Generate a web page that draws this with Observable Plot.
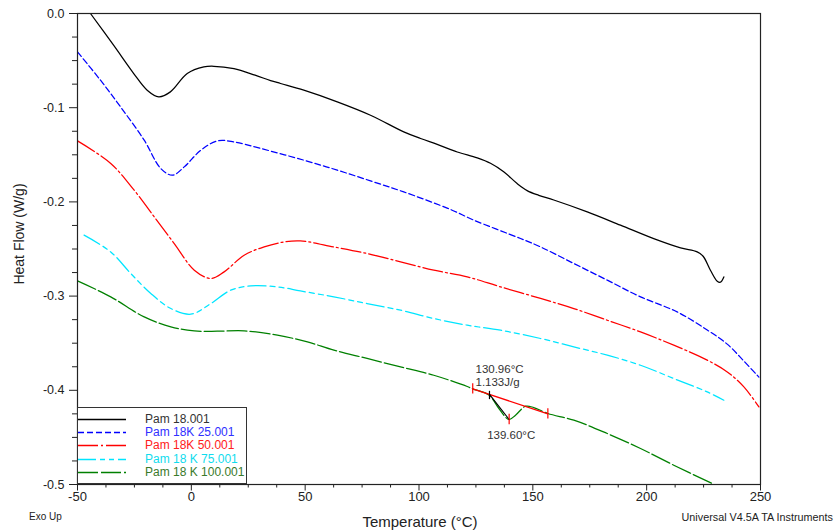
<!DOCTYPE html>
<html>
<head>
<meta charset="utf-8">
<script src="https://cdn.jsdelivr.net/npm/d3@7"></script>
<script src="https://cdn.jsdelivr.net/npm/@observablehq/plot@0.6"></script>
<style>
  body { margin: 0; background: #fff; }
  #wrap { position: relative; width: 836px; height: 532px; font-family: Arial, "Liberation Sans", sans-serif; color: #222; }
  #wrap svg { position: absolute; left: 0; top: 0; }
  .lbl { position: absolute; white-space: nowrap; line-height: 1; }
  #legend { position: absolute; left: 77px; top: 407px; width: 170px; height: 77px; box-sizing: border-box;
            border: 1px solid #333; background: #fff; }
  .row { position: absolute; left: 0; height: 13px; width: 100%; }
  .row svg { position: absolute; left: 7px; top: 0; }
  .row span { position: absolute; left: 67px; top: 0; font-size: 12px; line-height: 13px; white-space: nowrap; }
</style>
</head>
<body>
<div id="wrap"></div>
<script>
// ---- data ----
const seriesNames = ["Pam 18.001", "Pam 18K 25.001", "Pam 18K 50.001", "Pam 18 K 75.001", "Pam 18 K 100.001"];
const seriesColors = ["#000000", "#0000ff", "#ff0000", "#00e5ff", "#008000"];
const legendTextColors = ["#333333", "#3030ff", "#ff2020", "#10dcee", "#3a7a2a"];
const seriesDash = ["none", "6,3", "20,3,2,3", "18,4,5,4,5,4", "20,3"];

const blackT = [-44.3, -34.0, -25.3, -19.4, -14.3, -9.2, -1.8, 5.5, 9.9, 18.7, 28, 34.8, 39.2, 49.4, 64.1, 78.7, 93.3, 100.7, 108, 116.8, 125.6, 131.4, 137.2, 143.1, 147.5, 152.6, 159.2, 173.9, 188.5, 203.1, 214.9, 222.2, 224.8, 228.0, 231.0, 232.4, 233.9];
const blackV = [0, -0.0342, -0.0637, -0.0814, -0.0885, -0.0832, -0.0637, -0.0567, -0.056, -0.0586, -0.0655, -0.0712, -0.0743, -0.0814, -0.0938, -0.108, -0.1257, -0.1327, -0.139, -0.147, -0.1533, -0.159, -0.168, -0.1805, -0.188, -0.193, -0.198, -0.2106, -0.2247, -0.239, -0.2488, -0.253, -0.2577, -0.2725, -0.2842, -0.2852, -0.2796];

const blueT = [-50, -39.9, -31.1, -20.7, -13.4, -8.3, -3.1, 4.2, 11.5, 18.8, 30.5, 49.4, 64.1, 78.7, 93.3, 113.8, 124.1, 144.6, 153.4, 168, 182.7, 197.3, 213.4, 226.6, 235.4, 242.7, 249.3];
const blueV = [-0.0408, -0.0708, -0.0991, -0.1345, -0.1646, -0.1717, -0.1628, -0.1451, -0.1352, -0.1363, -0.1433, -0.1557, -0.1663, -0.1777, -0.1894, -0.208, -0.2194, -0.2389, -0.2478, -0.2654, -0.2831, -0.3008, -0.3168, -0.336, -0.351, -0.369, -0.386];

const redT = [-50, -35.4, -25.1, -16.3, -7.5, 1.3, 8.6, 14.4, 23.2, 32, 40.8, 47.9, 62.6, 77.2, 91.9, 106.5, 121.2, 135.8, 153.4, 168, 182.7, 197.3, 211.9, 226.6, 235.4, 242.7, 249.3];
const redV = [-0.1352, -0.1592, -0.1876, -0.2159, -0.2442, -0.2725, -0.2813, -0.2743, -0.2566, -0.2478, -0.2425, -0.2414, -0.2478, -0.2548, -0.2637, -0.2725, -0.2796, -0.2902, -0.3025, -0.3132, -0.3256, -0.338, -0.3521, -0.368, -0.3805, -0.3964, -0.4176];

const cyanT = [-47.1, -35.4, -26.6, -17.8, -9, -0.2, 8.6, 17.3, 26.1, 37.8, 47.9, 62.6, 77.2, 91.9, 106.5, 121.2, 135.8, 153.4, 168, 182.7, 197.3, 211.9, 226.6, 233.9];
const cyanV = [-0.2353, -0.2531, -0.276, -0.2972, -0.3132, -0.3192, -0.3079, -0.2937, -0.2892, -0.2902, -0.2945, -0.3008, -0.3079, -0.315, -0.3238, -0.3309, -0.3362, -0.345, -0.3539, -0.3627, -0.3734, -0.3875, -0.4017, -0.4105];

const greenT = [-50, -35.4, -20.7, -9, 1.3, 11.5, 23.2, 37.8, 51, 62.6, 77.2, 91.9, 106.5, 121.2, 123.6, 130.7, 135.1, 139.5, 142.4, 146.8, 150.4, 156.6, 168, 182.7, 197.3, 211.9, 228.8];
const greenV = [-0.2839, -0.3008, -0.3221, -0.3327, -0.3369, -0.3373, -0.3369, -0.3415, -0.3486, -0.3574, -0.3662, -0.3752, -0.384, -0.396, -0.3985, -0.405, -0.4193, -0.431, -0.4264, -0.4169, -0.4183, -0.4246, -0.4317, -0.4459, -0.4618, -0.4795, -0.499];

// transition analysis annotation
const tangentT = [123.6, 156.6];
const tangentV = [-0.3985, -0.4250];
const markerT = [123.6, 139.6, 156.6];
const markerV = [-0.3985, -0.431, -0.4250];
const onsetT = 130.96, onsetV = -0.4044;
const peakT = 139.6, peakV = -0.431;
const onsetLabel = "130.96°C\n1.133J/g";
const peakLabel = "139.60°C";

// axes
const xMajorTicks = [-50, 0, 50, 100, 150, 200, 250];
const xMinorTicks = [-37.5, -25, -12.5, 12.5, 25, 37.5, 62.5, 75, 87.5, 112.5, 125, 137.5, 162.5, 175, 187.5, 212.5, 225, 237.5];
const yMajorTicks = [0, -0.1, -0.2, -0.3, -0.4, -0.5];
const yMinorTicks = [-0.025, -0.05, -0.075, -0.125, -0.15, -0.175, -0.225, -0.25, -0.275, -0.325, -0.35, -0.375, -0.425, -0.45, -0.475];
const xLabel = "Temperature (°C)";
const yLabel = "Heat Flow (W/g)";
const leftNote = "Exo Up";
const rightNote = "Universal V4.5A TA Instruments";

// ---- build ----
const allT = [blackT, blueT, redT, cyanT, greenT];
const allV = [blackV, blueV, redV, cyanV, greenV];
const series = allT.map((Ts, i) => Ts.map((t, j) => ({T: t, v: allV[i][j]})));
const tangent = tangentT.map((t, i) => ({T: t, v: tangentV[i]}));
const markers = markerT.map((t, i) => ({T: t, v: markerV[i]}));
const onsetLine = [{T: onsetT, v: onsetV}, {T: peakT, v: peakV}];
const tickHalf = 0.0055;

const lineMarks = series.map((rows, i) => Plot.line(rows, {
  x: "T", y: "v", stroke: seriesColors[i], strokeWidth: 1.25,
  strokeDasharray: seriesDash[i] === "none" ? null : seriesDash[i],
  curve: "catmull-rom", clip: true
}));

const chart = Plot.plot({
  width: 836, height: 532,
  marginLeft: 77, marginRight: 76, marginTop: 13, marginBottom: 48,
  style: {fontFamily: 'Arial, "Liberation Sans", sans-serif', fontSize: "12px", color: "#222", background: "transparent", overflow: "visible"},
  x: {domain: [-50, 250], label: null},
  y: {domain: [-0.5, 0], label: null},
  marks: [
    Plot.axisX({ticks: xMinorTicks, tickSize: 3.5, tickFormat: () => "", label: null, stroke: "#222"}),
    Plot.axisX({ticks: xMajorTicks, tickSize: 6.5, tickPadding: 1, tickFormat: d => String(d), label: null, stroke: "#222", fontSize: 13}),
    Plot.axisY({ticks: yMinorTicks, tickSize: 5, tickFormat: () => "", label: null, stroke: "#222"}),
    Plot.axisY({ticks: yMajorTicks, tickSize: 8, tickPadding: 5, tickFormat: d => d.toFixed(1), label: null, stroke: "#222", fontSize: 12.5}),
    ...lineMarks,
    Plot.line(tangent, {x: "T", y: "v", stroke: "#ff0000", strokeWidth: 1.3}),
    Plot.line(onsetLine, {x: "T", y: "v", stroke: "#000", strokeWidth: 1.2}),
    Plot.ruleX(markers, {x: "T", y1: d => d.v - tickHalf, y2: d => d.v + tickHalf, stroke: "#ff0000", strokeWidth: 1.2}),
    Plot.ruleX([onsetLine[0]], {x: "T", y1: d => d.v - tickHalf, y2: d => d.v + tickHalf * 0.6, stroke: "#000", strokeWidth: 1.2}),
    Plot.text([onsetLine[0]], {x: "T", y: "v", text: () => onsetLabel, textAnchor: "start", lineAnchor: "bottom", lineHeight: 1.2, dx: -14, dy: -8, fill: "#333", fontSize: 11.5}),
    Plot.text([onsetLine[1]], {x: "T", y: "v", text: () => peakLabel, textAnchor: "start", lineAnchor: "bottom", dx: -22, dy: 19, fill: "#333", fontSize: 11.5}),
    Plot.frame({stroke: "#222", strokeWidth: 1.2})
  ]
});

const wrap = document.getElementById("wrap");
wrap.appendChild(chart);

function addLabel(text, css) {
  const d = document.createElement("div");
  d.className = "lbl";
  d.textContent = text;
  Object.assign(d.style, css);
  wrap.appendChild(d);
  return d;
}
addLabel(yLabel, {left: "19px", top: "234px", fontSize: "14px", transform: "translate(-50%,-50%) rotate(-90deg)"});
addLabel(xLabel, {left: "420px", top: "521px", fontSize: "15px", transform: "translate(-50%,-50%)"});
addLabel(leftNote, {left: "29px", top: "517px", fontSize: "10px", transform: "translateY(-50%)"});
addLabel(rightNote, {right: "3px", top: "517px", fontSize: "10.8px", transform: "translateY(-50%)"});

// legend
const legend = document.createElement("div");
legend.id = "legend";
seriesNames.forEach((name, i) => {
  const row = document.createElement("div");
  row.className = "row";
  row.style.top = (4.5 + 13.4 * i) + "px";
  const dash = seriesDash[i] === "none" ? "" : `stroke-dasharray="${seriesDash[i]}"`;
  row.innerHTML = `<svg width="50" height="13"><line x1="0" y1="6.5" x2="48" y2="6.5" stroke="${seriesColors[i]}" stroke-width="1.3" ${dash}/></svg><span style="color:${legendTextColors[i]}">${name}</span>`;
  legend.appendChild(row);
});
wrap.appendChild(legend);
</script>
</body>
</html>
